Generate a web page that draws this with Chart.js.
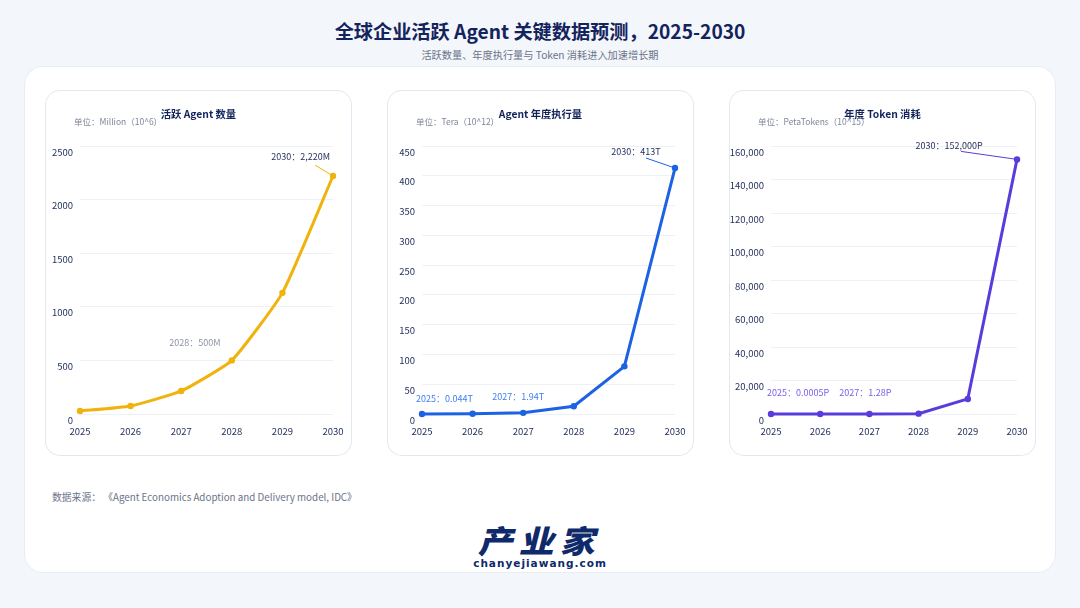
<!DOCTYPE html>
<html lang="zh">
<head>
<meta charset="utf-8" />
<title>全球企业活跃 Agent 关键数据预测</title>
<script src="https://cdn.jsdelivr.net/npm/chart.js@4.4.1/dist/chart.umd.min.js"></script>
<style>
  html, body { margin: 0; padding: 0; }
  body {
    width: 1080px; height: 608px; position: relative; overflow: hidden;
    background: #f3f6fb;
    font-family: "Noto Sans CJK SC", "Noto Sans", sans-serif;
  }
  .title { position: absolute; left: 0; width: 1080px; top: 17px; text-align: center;
    font-size: 19.2px; font-weight: 700; color: #13235b; }
  .subtitle { position: absolute; left: 0; width: 1080px; top: 47px; text-align: center;
    font-size: 10.2px; color: #6b7489; }
  .card { position: absolute; left: 25px; top: 67px; width: 1030px; height: 505px;
    background: #fff; border-radius: 18px; box-shadow: 0 0 0 1px #e8edf5; }
  .panel { position: absolute; top: 91px; width: 305px; height: 364px;
    background: #fff; border-radius: 14px; box-shadow: 0 0 0 1px #e3e8f0; }
  .panel canvas { position: absolute; left: 0; top: 0; }
  .ptitle { position: absolute; top: 15px; left: 0; width: 305px; text-align: center;
    font-size: 10.3px; font-weight: 700; color: #13235b; }
  .unit { position: absolute; top: 24px; left: 28px; font-size: 8.5px; color: #7d869a; }
  .source { position: absolute; left: 52px; top: 490px; font-size: 9.8px; color: #6b7489; }
  .logo { position: absolute; left: 0; width: 1080px; top: 522px; text-align: center; color: #0f2a6b; }
  .logo .cn { font-size: 35px; font-weight: 900; line-height: 36px; letter-spacing: 6px;
    display: inline-block; transform: skewX(-14deg) scaleY(0.9); margin-left: 6px; }
  .logo .en { font-size: 10.5px; font-weight: 700; line-height: 10px; letter-spacing: 1px;
    font-family: "DejaVu Sans", sans-serif; margin-top: -2px; }
</style>
</head>
<body>
<div class="title">全球企业活跃 Agent 关键数据预测，2025-2030</div>
<div class="subtitle">活跃数量、年度执行量与 Token 消耗进入加速增长期</div>
<div class="card"></div>

<div class="panel" style="left:46px">
  <canvas id="c1" width="305" height="364"></canvas>
  <div class="ptitle">活跃 Agent 数量</div>
  <div class="unit">单位：Million（10^6）</div>
</div>
<div class="panel" style="left:388px">
  <canvas id="c2" width="305" height="364"></canvas>
  <div class="ptitle">Agent 年度执行量</div>
  <div class="unit">单位：Tera（10^12）</div>
</div>
<div class="panel" style="left:730px">
  <canvas id="c3" width="305" height="364"></canvas>
  <div class="ptitle">年度 Token 消耗</div>
  <div class="unit">单位：PetaTokens（10^15）</div>
</div>

<div class="source">数据来源： 《Agent Economics Adoption and Delivery model, IDC》</div>
<div class="logo"><span class="cn">产业家</span><div class="en">chanyejiawang.com</div></div>

<script>
// data
var years = ['2025', '2026', '2027', '2028', '2029', '2030'];
var activeAgents = [28, 75, 215, 500, 1130, 2220];        // Million
var executions = [0.044, 0.4, 1.94, 13, 80, 413];         // Tera
var tokens = [0.0005, 0.03, 1.28, 200, 9000, 152000];     // PetaTokens

var navy = '#26325e';
var fontFamily = '"Noto Sans CJK SC", "Noto Sans", sans-serif';

// small text labels next to points, offsets from the point
var notesPlugin = {
  id: 'notes',
  afterDatasetsDraw: function(chart, args, opts) {
    var ctx = chart.ctx;
    var pts = chart.getDatasetMeta(0).data;
    (opts.items || []).forEach(function(n) {
      var p = pts[n.i];
      ctx.save();
      if (n.line) {
        ctx.strokeStyle = n.lineColor;
        ctx.lineWidth = 1;
        ctx.beginPath();
        ctx.moveTo(p.x + n.line[0], p.y + n.line[1]);
        ctx.lineTo(p.x, p.y);
        ctx.stroke();
      }
      ctx.font = '9px ' + fontFamily;
      ctx.fillStyle = n.color;
      ctx.textAlign = n.align || 'center';
      ctx.textBaseline = 'middle';
      ctx.fillText(n.text, p.x + n.dx, p.y + n.dy);
      ctx.restore();
    });
  }
};

function makeChart(id, values, color, yMax, yStep, yWidth, fmt, notes) {
  var ctx = document.getElementById(id).getContext('2d');
  return new Chart(ctx, {
    type: 'line',
    data: {
      labels: years,
      datasets: [{
        data: values,
        borderColor: color,
        borderWidth: 3,
        backgroundColor: color,
        pointRadius: 3.2,
        pointBorderWidth: 0,
        pointBackgroundColor: color,
        tension: id == 'c1' ? 0.15 : 0,
        fill: false,
        clip: false
      }]
    },
    options: {
      responsive: false,
      animation: false,
      layout: { padding: { top: 55, right: 18, left: 0, bottom: 0 } },
      plugins: {
        legend: { display: false },
        tooltip: { enabled: false },
        notes: { items: notes }
      },
      scales: {
        x: {
          offset: false,
          grid: { display: false, drawTicks: false },
          border: { display: false },
          ticks: { color: navy, padding: 12, maxRotation: 0, font: { size: 9.5, family: fontFamily } },
          afterFit: function(s) { s.height = 41; s.paddingLeft = 0; s.paddingRight = 0; }
        },
        y: {
          min: 0, max: yMax,
          grid: { color: '#edf0f5', drawTicks: false, lineWidth: 1 },
          border: { display: false },
          ticks: {
            stepSize: yStep, color: navy, padding: 7, labelOffset: 6,
            font: { size: 9.5, family: fontFamily },
            callback: fmt
          },
          afterFit: function(s) { s.width = yWidth; s.paddingTop = 0; s.paddingBottom = 0; }
        }
      }
    },
    plugins: [notesPlugin]
  });
}

var plain = function(v) { return String(v); };
var commas = function(v) { return v.toLocaleString('en-US'); };

makeChart('c1', activeAgents, '#f0b30e', 2500, 500, 34, plain, [
  { i: 5, text: '2030：2,220M', dx: -3, dy: -19, align: 'right', color: navy, line: [-18, -11], lineColor: '#f0b30e' },
  { i: 3, text: '2028：500M', dx: -37, dy: -18, color: '#8a93a6' }
]);

makeChart('c2', executions, '#1c62e3', 450, 50, 34, plain, [
  { i: 5, text: '2030：413T', dx: -39, dy: -16, color: navy, line: [-29, -10], lineColor: '#1c62e3' },
  { i: 0, text: '2025：0.044T', dx: -6, dy: -15, align: 'left', color: '#3f7ef0' },
  { i: 2, text: '2027：1.94T', dx: -5, dy: -16, color: '#3f7ef0' }
]);

makeChart('c3', tokens, '#5a3bdc', 160000, 20000, 41, commas, [
  { i: 5, text: '2030：152,000P', dx: -68, dy: -14, color: navy, line: [-56, -8], lineColor: '#5a3bdc' },
  { i: 0, text: '2025：0.0005P', dx: -4, dy: -21, align: 'left', color: '#7a5ce8' },
  { i: 2, text: '2027：1.28P', dx: -4, dy: -21, color: '#7a5ce8' }
]);
</script>
</body>
</html>
